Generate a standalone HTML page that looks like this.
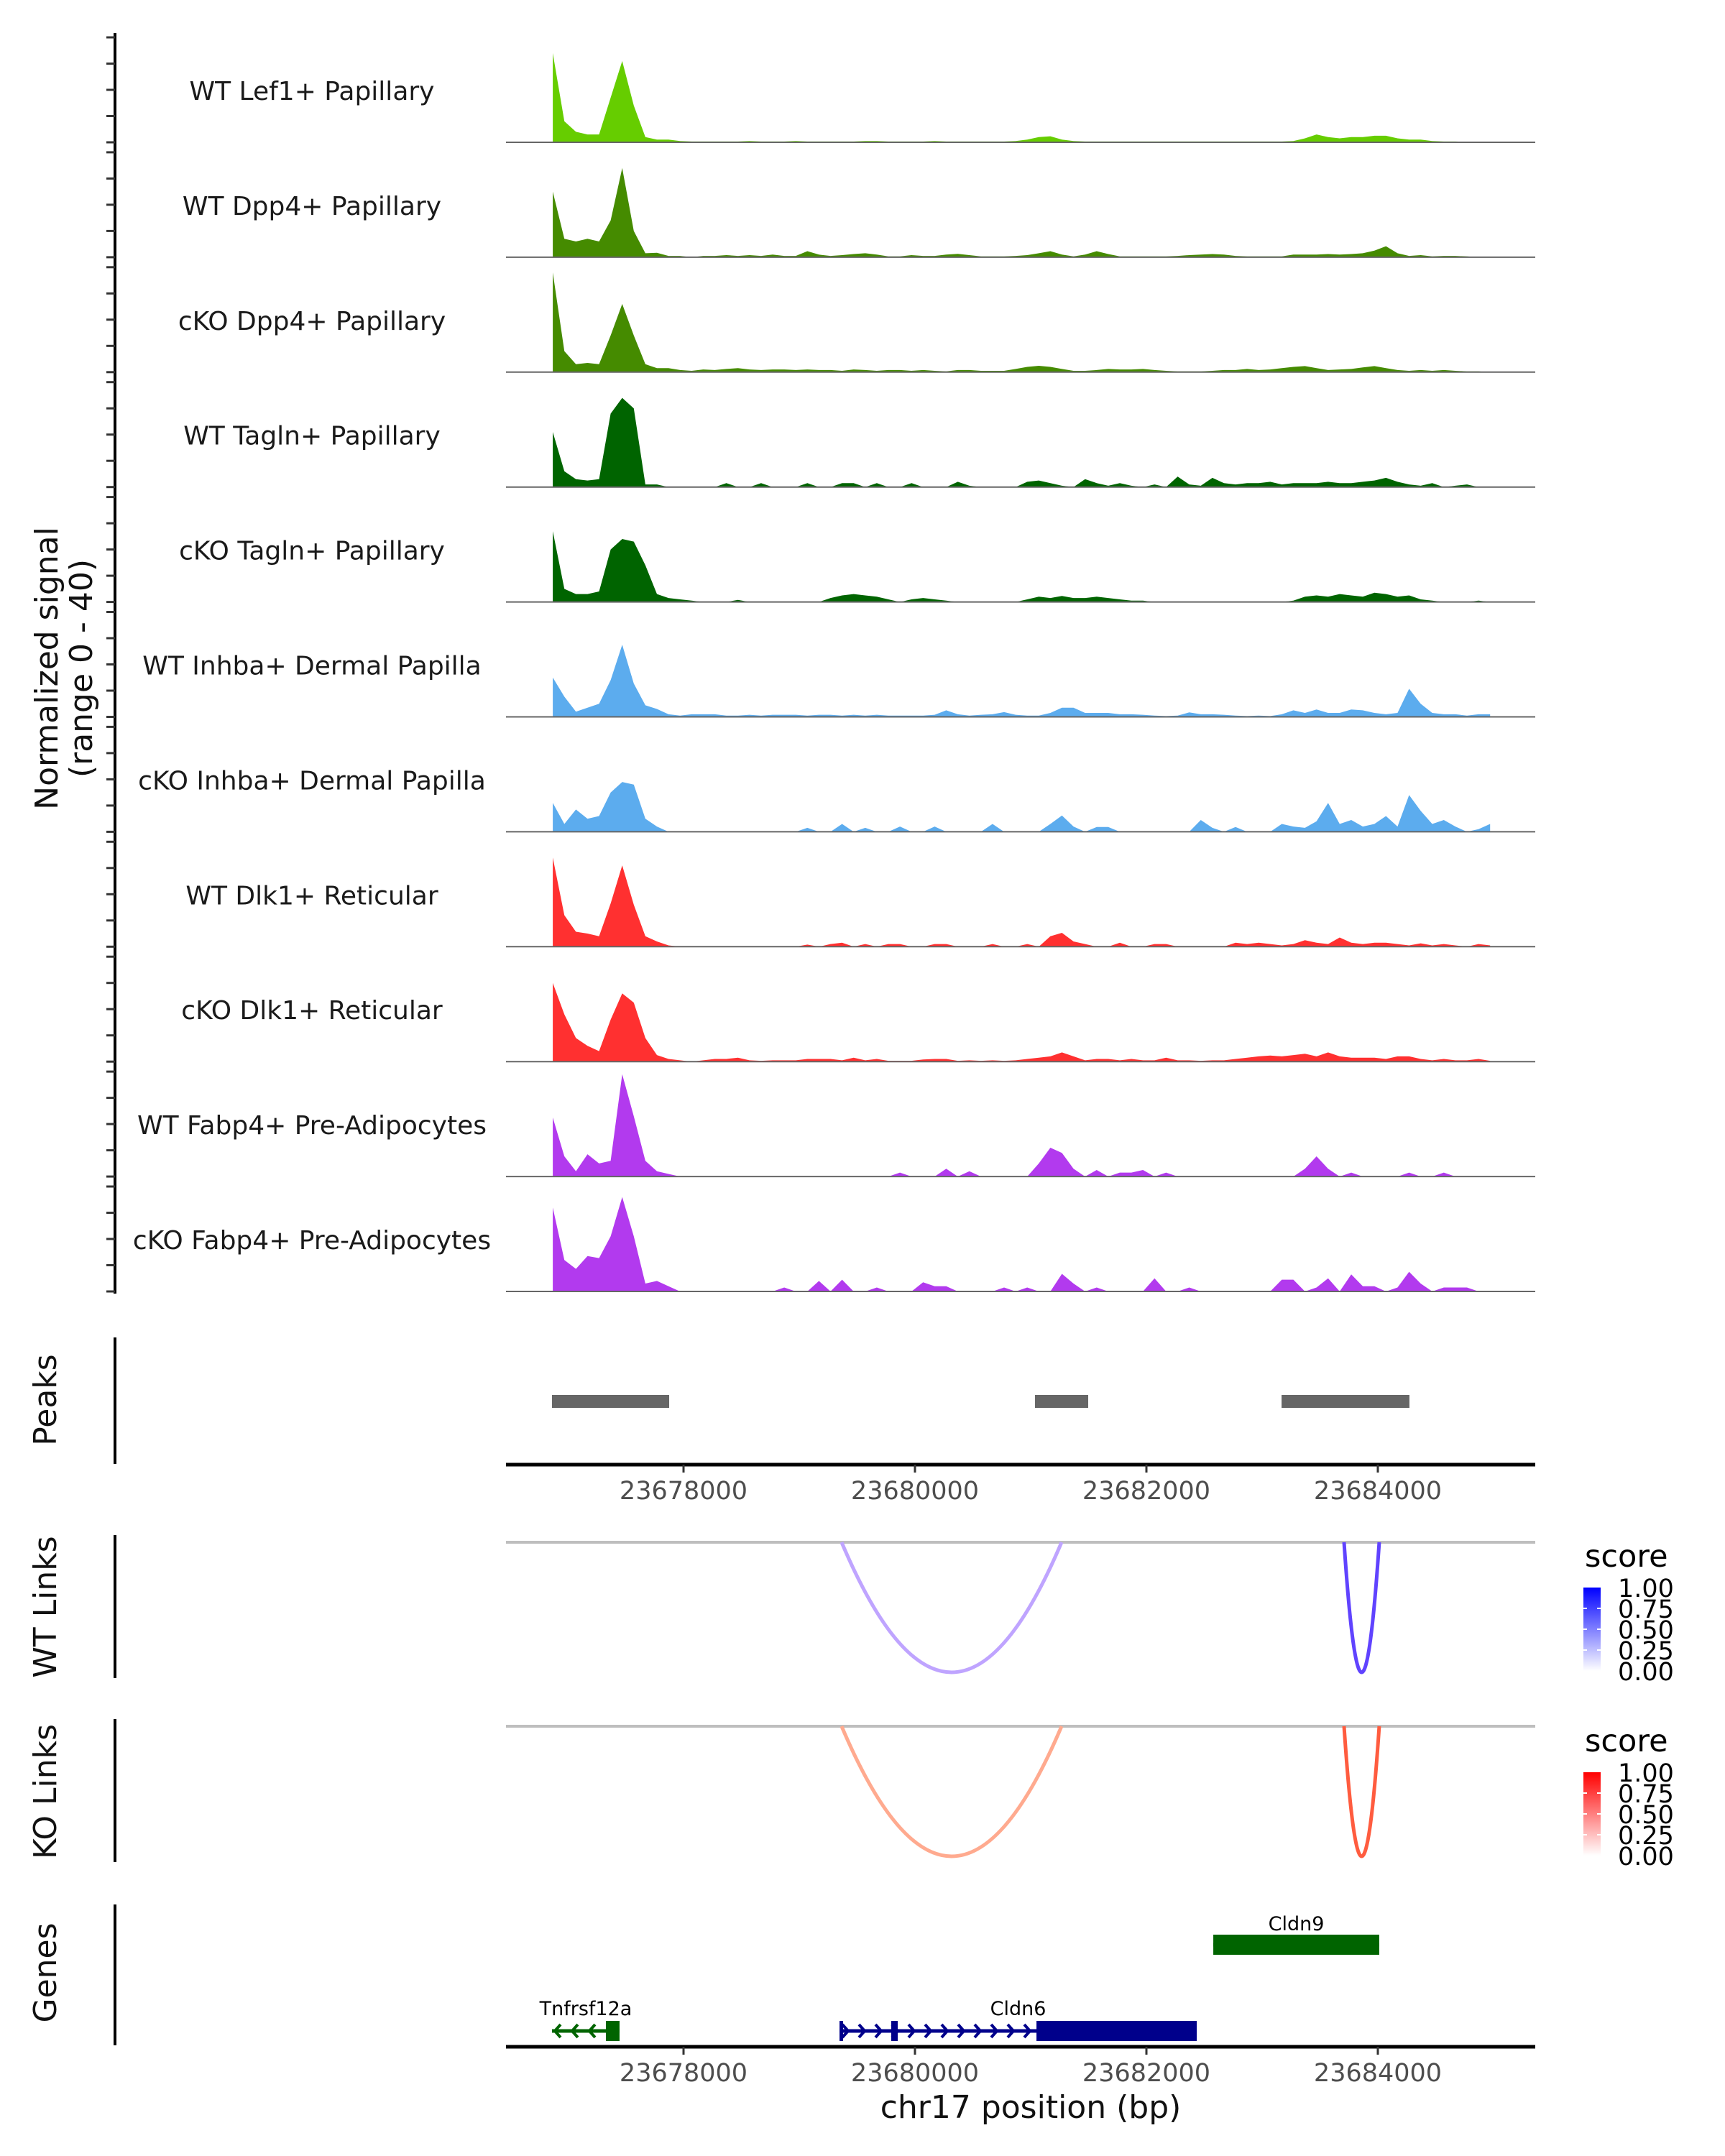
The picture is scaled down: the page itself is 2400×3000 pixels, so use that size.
<!DOCTYPE html>
<html><head><meta charset="utf-8"><style>
html,body{margin:0;padding:0;background:#fff;}
svg{display:block;font-family:"DejaVu Sans","Liberation Sans",sans-serif;}
</style></head><body>
<svg id="chart" width="2400" height="3000" viewBox="0 0 2400 3000" xmlns="http://www.w3.org/2000/svg">
<rect width="2400" height="3000" fill="#fff"/>
<g id="tracks"></g>
<g id="peaks"></g>
<g id="links"></g>
<g id="genes"></g>
<text transform="translate(80,930) rotate(-90)" text-anchor="middle" font-size="44" fill="#111">Normalized signal</text>
<text transform="translate(128,930) rotate(-90)" text-anchor="middle" font-size="44" fill="#111">(range 0 - 40)</text>
<text transform="translate(78,1948) rotate(-90)" text-anchor="middle" font-size="44" fill="#111">Peaks</text>
<text transform="translate(78,2236) rotate(-90)" text-anchor="middle" font-size="44" fill="#111">WT Links</text>
<text transform="translate(78,2493) rotate(-90)" text-anchor="middle" font-size="44" fill="#111">KO Links</text>
<text transform="translate(78,2745) rotate(-90)" text-anchor="middle" font-size="44" fill="#111">Genes</text>
<text x="1434" y="2947" text-anchor="middle" font-size="44" fill="#111">chr17 position (bp)</text>
</svg>
<script>
const NS="http://www.w3.org/2000/svg";
// ---- data ----
const trackNames=["WT Lef1+ Papillary","WT Dpp4+ Papillary","cKO Dpp4+ Papillary","WT Tagln+ Papillary","cKO Tagln+ Papillary","WT Inhba+ Dermal Papilla","cKO Inhba+ Dermal Papilla","WT Dlk1+ Reticular","cKO Dlk1+ Reticular","WT Fabp4+ Pre-Adipocytes","cKO Fabp4+ Pre-Adipocytes"];
const trackColors=["#66CD00","#458B00","#458B00","#006400","#006400","#5CACEE","#5CACEE","#FF3030","#FF3030","#B23AEE","#B23AEE"];
const binStart=23676870;
const binSize=100;
const lef1WT=[34,8,4,3,3,17,31,14,2,1, 1,0.5,0.3,0.3,0.3,0.3,0.3,0.5,0.3,0.3, 0.3,0.5,0.3,0.3,0.3,0.3,0.3,0.5,0.5,0.3, 0.3,0.3,0.3,0.5,0.3,0.3,0.3,0.3,0.3,0.3, 0.5,1,2,2.3,1,0.5,0.3,0.3,0.3,0.3, 0.3,0.3,0.3,0.3,0.3,0.3,0.3,0.3,0.3,0.3, 0.3,0.3,0.3,0.3,0.5,1.5,3,2,1.5,2, 2,2.5,2.5,1.5,1,1,0.5,0.3,0.3,0.2, 0,0];
const dpp4WT=[25,7,6,7,6,14,34,10,1.5,1.7, 0.5,0.5,0,0.5,0.5,0.8,0.5,0.8,0.5,1, 0.5,0.5,2.3,1,0.5,0.8,1.2,1.5,1,0.3, 0.3,0.8,0.5,0.5,1,1.3,0.8,0.3,0.3,0.3, 0.5,0.8,1.5,2.3,1,0.3,1,2.3,1.2,0.3, 0.3,0.3,0.3,0.3,0.5,0.8,1,1.2,1,0.5, 0.3,0.3,0.3,0.3,1,1,1,1.2,1,1.2, 1.5,2.5,4.2,1.5,0.5,0.8,0.3,0.5,0.5,0.3, 0,0];
const dpp4KO=[38,8,3,3.5,3,14,26,14,3,1.5, 1.5,0.8,0.5,1,0.8,1.2,1.5,1,0.8,1, 1,0.8,1,0.8,0.8,0.5,1,0.8,0.5,0.8, 0.8,0.5,0.8,0.5,0.3,0.8,0.8,0.5,0.5,0.5, 1.2,2,2.4,2,1.2,0.5,0.5,0.8,1.2,1, 1,1.2,0.8,0.5,0.3,0.3,0.3,0.5,0.8,0.8, 1.2,0.8,1,1.5,2,2.3,1.5,0.8,1,1.2, 1.8,2.3,1.5,0.8,0.5,0.8,0.5,0.8,0.5,0.3, 0.3,0];
const taglnWT=[21,6,3,2.5,3,28,34,30,1,1, 0,0,0,0,0,1.5,0,0,1.5,0, 0,0,1.5,0,0,1.5,1.5,0,1.5,0, 0,1.5,0,0,0,2,0.5,0,0,0, 0,2,2.5,1.5,0.5,0,3,1.5,0.5,1.5, 0.5,0,1,0,4,1,0.5,3.5,1.5,1, 1.5,1.5,2,1,1.5,1.5,1.5,2,1.5,1.5, 2,2.5,3.5,2,1,0.5,1.5,0,0.5,1, 0,0];
const taglnKO=[27,5,3,3,4,20,24,23,14,3, 1.5,1,0.5,0,0,0,0.8,0,0,0, 0,0,0,0,1.5,2.5,3,2.5,2,1, 0,1,1.5,1,0.5,0,0,0,0,0, 0,1,2,1.5,2.3,1.5,1.5,2,1.5,1, 0.5,0.5,0,0,0,0,0,0,0,0, 0,0,0,0,0.5,2,2.5,2,3,2.5, 2,3.5,3,2,2.5,1,0.5,0,0,0, 0.5,0];
const inhbaWT=[15,7.7,2,3.5,5,14,27.5,12.7,4.4,3, 1,0.5,1,1,1,0.5,0.5,0.8,0.5,0.8, 0.8,0.8,0.5,0.8,0.8,0.5,0.8,0.5,0.8,0.5, 0.5,0.5,0.5,0.8,2.5,1,0.5,0.8,1,1.8, 0.8,0.5,0.5,1.5,3.5,3.5,1.5,1.5,1.5,1, 1,0.8,0.5,0.3,0.5,1.7,1,1,0.8,0.5, 0.3,0.5,0.3,1,2.5,1.5,2.8,1.5,1.5,2.8, 2.5,1.5,1,1.5,10.7,5,1.5,1,1,0.5, 1,1];
const inhbaKO=[11,3,8.5,5,6,15,19,18,5,2, 0,0,0,0,0,0,0,0,0,0, 0,0,1.5,0,0,3,0,1.5,0,0, 2,0,0,2,0,0,0,0,3,0, 0,0,0,3,6.2,2,0,1.8,1.8,0, 0,0,0,0,0,0,4.5,1.5,0,1.8, 0,0,0,3,2,1.5,4,11,3,4.5, 2,3,6,2,14,8,3,4.5,2,0, 1,3];
const dlk1WT=[34,12,5.7,5,4,16.5,31,16,4,2, 0.5,0,0,0,0,0,0,0,0,0, 0,0,0.8,0,1,1.5,0,1,0,1, 1,0,0,1,1,0,0,0,1,0, 0,1,0,4,5.3,2,1,0,0,1.5, 0,0,1,1,0,0,0,0,0,1.5, 1,1.5,1,0.5,1,2.5,1.5,1,3.5,1.5, 1,1.5,1.5,1,0.5,1.3,0.5,1,0.5,0, 1,0.5];
const dlk1KO=[30,18,9,6,4,16,26,22.5,9,2.5, 1,0.5,0,0.5,1,1,1.5,0.5,0.3,0.5, 0.5,0.5,1,1,1,0.5,1.5,0.5,1,0.3, 0.3,0.3,0.8,1,1,0.3,0.5,0.3,0.5,0.3, 0.5,1,1.5,2,3.5,2,0.5,1,1,0.5, 1,0.5,0.5,1.5,0.5,0.5,0.3,0.5,0.5,1, 1.5,2,2.3,2,2.5,3,2,3.5,2,1.5, 1.5,1.5,1,2,2,1,0.5,1,0.5,0.5, 1,0.3];
const fabp4WT=[22.5,7.7,2,8.5,5,6,39,23,6,2, 1,0,0,0,0,0,0,0,0,0, 0,0,0,0,0,0,0,0,0,0, 1.5,0,0,0,3,0,2,0,0,0, 0,0,5,11,9,3,0,2.5,0,1.5, 1.5,2.5,0,1.5,0,0,0,0,0,0, 0,0,0,0,0,3,7.7,3,0,1.5, 0,0,0,0,1.5,0,0,1.5,0,0, 0,0];
const fabp4KO=[32,12,8.6,13.5,12.7,21,36,21,3,4, 2,0,0,0,0,0,0,0,0,0, 1.5,0,0,4,0,4.5,0,0,1.5,0, 0,0,3.5,2,2,0,0,0,0,1.5, 0,1.5,0,0,6.7,3,0,1.5,0,0, 0,0,5,0,0,1.5,0,0,0,0, 0,0,0,4.5,4.5,0,1.5,5,0,6.5, 2,2,0,1.5,7.5,3,0,1.5,1.5,1.5, 0,0];
const trackValues=[lef1WT,dpp4WT,dpp4KO,taglnWT,taglnKO,inhbaWT,inhbaKO,dlk1WT,dlk1KO,fabp4WT,fabp4KO];
const peakStarts=[23676863,23681037,23683168];
const peakEnds=[23677876,23681497,23684273];
const xTicks=[23678000,23680000,23682000,23684000];
const linkStarts=[23679366,23683708];
const linkEnds=[23681267,23684012];
const wtScores=[0.3,0.85];
const koScores=[0.32,0.85];
const legendTicks=["1.00","0.75","0.50","0.25","0.00"];
const geneNames=["Tnfrsf12a","Cldn6","Cldn9"];
const geneStarts=[23676863,23679348,23682578];
const geneEnds=[23677447,23682435,23684012];
const geneCdsStarts=[23677329,23681050,23682578];
const geneCdsEnds=[23677447,23682435,23684012];
const geneStrands=[-1,1,-1];
const geneRows=[1,1,0];
// ---- scales ----
const X0=951, PXBP=0.161;
function xs(bp){return X0+(bp-23678000)*PXBP;}
const PANEL_L=704, PANEL_R=2136;
const BASE0=198, TRACK_STEP=159.9, YU=3.65;
function el(tag,attrs,parent){const e=document.createElementNS(NS,tag);for(const k in attrs)e.setAttribute(k,attrs[k]);parent.appendChild(e);return e;}
const tracksG=document.getElementById('tracks');
const ax=el('line',{x1:160,y1:46,x2:160,y2:1800,stroke:'#000','stroke-width':4},tracksG);


trackValues.forEach((vals,t)=>{
  const base=BASE0+t*TRACK_STEP;
  const g=el('g',{},tracksG);
  
  
  for(let k=0;k<=4;k++){
    const ty=base-k*10*YU;
    const tk=el('line',{x1:148,y1:ty,x2:160,y2:ty,stroke:'#333','stroke-width':3},g);
    
    
  }
  let d='M'+xs(binStart).toFixed(1)+','+base;
  vals.forEach((v,i)=>{d+=' L'+xs(binStart+i*binSize).toFixed(1)+','+(base-v*YU).toFixed(1);});
  d+=' L'+xs(binStart+(vals.length-1)*binSize).toFixed(1)+','+base+' Z';
  const a=el('path',{d:d,fill:trackColors[t]},g);
  
  
  const bl=el('line',{x1:PANEL_L,y1:base,x2:PANEL_R,y2:base,stroke:'#666','stroke-width':2},g);
  
  
  const lb=el('text',{x:434,y:base-59,'text-anchor':'middle','font-size':36,fill:'#1a1a1a'},g);
  lb.textContent=trackNames[t];
  
  
});
function xAxis(parent,y,name){
  const g=el('g',{},parent);
  
  
  el('line',{x1:PANEL_L,y1:y,x2:PANEL_R,y2:y,stroke:'#000','stroke-width':5},g);
  xTicks.forEach(v=>{
    el('line',{x1:xs(v),y1:y,x2:xs(v),y2:y+11,stroke:'#333','stroke-width':3},g);
    const t=el('text',{x:xs(v),y:y+48,'text-anchor':'middle','font-size':35,fill:'#4d4d4d'},g);
    t.textContent=v;
    
    
  });
}
const pG=document.getElementById('peaks');
const pax=el('line',{x1:160,y1:1861,x2:160,y2:2037,stroke:'#000','stroke-width':4},pG);


peakStarts.forEach((s,i)=>{
  const r=el('rect',{x:xs(s),y:1941,width:xs(peakEnds[i])-xs(s),height:18,fill:'#666'},pG);
  
  
});
xAxis(pG,2038,'peaks-x-axis');
const lG=document.getElementById('links');
function linkPanel(top,bottom,axTop,axBot,scores,hue,name,legY){
  const g=el('g',{},lG);
  
  
  el('line',{x1:160,y1:axTop,x2:160,y2:axBot,stroke:'#000','stroke-width':4},g);
  el('line',{x1:PANEL_L,y1:top,x2:PANEL_R,y2:top,stroke:'#bebebe','stroke-width':4},g);
  linkStarts.forEach((s,i)=>{
    const x1=xs(s),x2=xs(linkEnds[i]),mx=(x1+x2)/2;
    const sc=scores[i];
    const c=hue==='b'?`rgb(${Math.round(255*(1-sc)*0.95+sc*70)},${Math.round(255*(1-sc)*0.85+sc*40)},255)`:`rgb(255,${Math.round(255*(1-sc)*0.85+sc*70)},${Math.round(255*(1-sc)*0.75+sc*40)})`;
    const p=el('path',{d:`M${x1},${top} Q${mx},${2*bottom-top} ${x2},${top}`,fill:'none',stroke:c,'stroke-width':5},g);
    
    
  });
  const lg=el('g',{},g);
  
  
  const st=el('text',{x:2205,y:legY,'font-size':43,fill:'#000'},lg);
  st.textContent='score';
  const gid='grad'+hue;
  const defs=el('defs',{},lg);
  const gr=el('linearGradient',{id:gid,x1:0,y1:1,x2:0,y2:0},defs);
  el('stop',{offset:0,'stop-color':'#fff'},gr);
  el('stop',{offset:1,'stop-color':hue==='b'?'#0000ff':'#ff0000'},gr);
  const by=legY+29, bh=116;
  el('rect',{x:2203,y:by,width:24,height:bh,fill:`url(#${gid})`},lg);
  legendTicks.forEach((t,k)=>{
    const ty=by+k*bh/4;
    if(k>0&&k<4){el('line',{x1:2203,y1:ty,x2:2208,y2:ty,stroke:'#fff','stroke-width':2},lg);el('line',{x1:2222,y1:ty,x2:2227,y2:ty,stroke:'#fff','stroke-width':2},lg);}
    const tx=el('text',{x:2251,y:ty+13,'font-size':35,fill:'#000'},lg);
    tx.textContent=t;
  });
}
linkPanel(2146,2327,2136,2335,wtScores,'b','wt-links-panel',2180);
linkPanel(2402,2583,2392,2591,koScores,'r','ko-links-panel',2437);
const gG=document.getElementById('genes');
const gax=el('line',{x1:160,y1:2650,x2:160,y2:2846,stroke:'#000','stroke-width':4},gG);


const geneColors=["#006400","#00008B","#006400"];
geneNames.forEach((n,i)=>{
  const g=el('g',{},gG);
  
  
  const cy=geneRows[i]===1?2826:2706;
  const col=geneColors[i];
  const x1=xs(geneStarts[i]),x2=xs(geneEnds[i]);
  el('line',{x1:x1,y1:cy,x2:x2,y2:cy,stroke:col,'stroke-width':5},g);
  const cs=xs(geneCdsStarts[i]),ce=xs(geneCdsEnds[i]);
  el('rect',{x:cs,y:cy-14,width:ce-cs,height:28,fill:col},g);
  for(let x=x1+8;x<cs-6;x+=(geneStrands[i]>0?23:24)){
    const dir=geneStrands[i];
    el('path',{d:`M${x-dir*4},${cy-9} L${x+dir*4},${cy} L${x-dir*4},${cy+9}`,fill:'none',stroke:col,'stroke-width':4},g);
  }
  if(n==='Cldn6'){
    el('rect',{x:xs(23679348),y:cy-14,width:5,height:28,fill:col},g);
    el('rect',{x:xs(23679795),y:cy-14,width:9,height:28,fill:col},g);
  }
  const t=el('text',{x:(x1+x2)/2,y:cy-(geneRows[i]===1?22:20),'text-anchor':'middle','font-size':27,fill:'#000'},g);
  t.textContent=n;
  
  
});
xAxis(gG,2848,'genes-x-axis');
</script>
</body></html>
